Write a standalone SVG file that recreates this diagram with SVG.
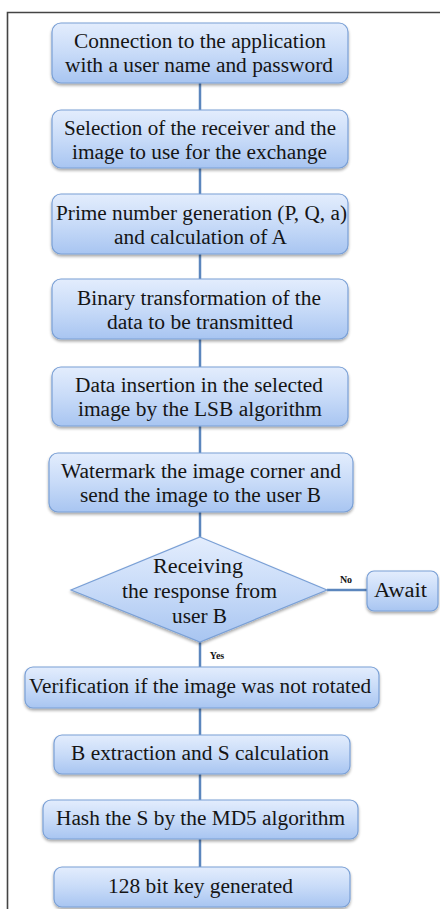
<svg xmlns="http://www.w3.org/2000/svg" width="440" height="909" viewBox="0 0 440 909">
<defs>
<linearGradient id="g" x1="0" y1="0" x2="0" y2="1">
<stop offset="0" stop-color="#e3edfd"/>
<stop offset="0.5" stop-color="#c8dbf8"/>
<stop offset="1" stop-color="#a8c5f1"/>
</linearGradient>
<filter id="sh" x="-10%" y="-10%" width="120%" height="140%">
<feGaussianBlur in="SourceAlpha" stdDeviation="1.5"/>
<feOffset dx="0" dy="2" result="b"/>
<feComponentTransfer><feFuncA type="linear" slope="0.35"/></feComponentTransfer>
<feMerge><feMergeNode/><feMergeNode in="SourceGraphic"/></feMerge>
</filter>
</defs>
<style>
.box{fill:url(#g);stroke:#7aa0d6;stroke-width:1.2;filter:url(#sh)}
.t{font-size:20px;fill:#151515;text-anchor:middle}
.s{font-size:10px;font-weight:bold;fill:#151515;text-anchor:middle}
.c{stroke:#5b86bd;stroke-width:2.5;fill:none}
</style>
<rect x="0" y="0" width="440" height="909" fill="#fff"/>
<path d="M7.5 909 V12.5 H440" stroke="#444" stroke-width="1.6" fill="none"/>
<g font-family="Liberation Serif, Times New Roman, DejaVu Serif, serif" lengthAdjust="spacingAndGlyphs">
<g id="connectors">
<line class="c" x1="200" y1="83" x2="200" y2="110"/>
<line class="c" x1="200" y1="168" x2="200" y2="194"/>
<line class="c" x1="200" y1="254" x2="200" y2="279"/>
<line class="c" x1="200" y1="339" x2="200" y2="367"/>
<line class="c" x1="200" y1="426" x2="200" y2="453"/>
<line class="c" x1="200" y1="512" x2="200" y2="537"/>
<line class="c" x1="327" y1="590" x2="367" y2="590"/>
<line class="c" x1="200" y1="642" x2="200" y2="667"/>
<line class="c" x1="200" y1="708" x2="200" y2="735"/>
<line class="c" x1="200" y1="774" x2="200" y2="800"/>
<line class="c" x1="200" y1="839" x2="200" y2="867"/>
<text class="s" x="346" y="583">No</text>
<text class="s" x="217" y="659">Yes</text>
</g>
<g id="n1"><rect class="box" x="52" y="23" width="296" height="60" rx="9"/>
<text class="t" x="200" y="48" textLength="252" lengthAdjust="spacingAndGlyphs">Connection to the application</text>
<text class="t" x="199" y="72" textLength="268" lengthAdjust="spacingAndGlyphs">with a user name and password</text></g>
<g id="n2"><rect class="box" x="52" y="110" width="296" height="58" rx="9"/>
<text class="t" x="200" y="135" textLength="272" lengthAdjust="spacingAndGlyphs">Selection of the receiver and the</text>
<text class="t" x="199.5" y="159" textLength="255" lengthAdjust="spacingAndGlyphs">image to use for the exchange</text></g>
<g id="n3"><rect class="box" x="52" y="194" width="296" height="60" rx="9"/>
<text class="t" x="201.5" y="220" textLength="291" lengthAdjust="spacingAndGlyphs">Prime number generation (P, Q, a)</text>
<text class="t" x="200.5" y="244" textLength="173" lengthAdjust="spacingAndGlyphs">and calculation of A</text></g>
<g id="n4"><rect class="box" x="52" y="279" width="296" height="60" rx="9"/>
<text class="t" x="199" y="305" textLength="244" lengthAdjust="spacingAndGlyphs">Binary transformation of the</text>
<text class="t" x="200" y="329" textLength="186" lengthAdjust="spacingAndGlyphs">data to be transmitted</text></g>
<g id="n5"><rect class="box" x="52" y="367" width="296" height="59" rx="9"/>
<text class="t" x="199" y="392" textLength="248" lengthAdjust="spacingAndGlyphs">Data insertion in the selected</text>
<text class="t" x="200" y="416" textLength="244" lengthAdjust="spacingAndGlyphs">image by the LSB algorithm</text></g>
<g id="n6"><rect class="box" x="49" y="453" width="304" height="59" rx="9"/>
<text class="t" x="201" y="478" textLength="280" lengthAdjust="spacingAndGlyphs">Watermark the image corner and</text>
<text class="t" x="200.5" y="502" textLength="241" lengthAdjust="spacingAndGlyphs">send the image to the user B</text></g>
<g id="n7"><polygon class="box" points="200,537 327,590 200,642 71,590"/>
<text class="t" x="198" y="573" textLength="90" lengthAdjust="spacingAndGlyphs">Receiving</text>
<text class="t" x="199.5" y="598" textLength="155" lengthAdjust="spacingAndGlyphs">the response from</text>
<text class="t" x="199.5" y="623" textLength="55" lengthAdjust="spacingAndGlyphs">user B</text></g>
<g id="n8"><rect class="box" x="367" y="571" width="71" height="40" rx="7"/>
<text class="t" x="400.5" y="597" textLength="53" lengthAdjust="spacingAndGlyphs">Await</text></g>
<g id="n9"><rect class="box" x="25" y="667" width="354" height="41" rx="8"/>
<text class="t" x="200" y="693" textLength="342" lengthAdjust="spacingAndGlyphs">Verification if the image was not rotated</text></g>
<g id="n10"><rect class="box" x="54" y="735" width="296" height="39" rx="8"/>
<text class="t" x="200" y="760" textLength="258" lengthAdjust="spacingAndGlyphs">B extraction and S calculation</text></g>
<g id="n11"><rect class="box" x="43" y="800" width="315" height="39" rx="8"/>
<text class="t" x="200.5" y="825" textLength="289" lengthAdjust="spacingAndGlyphs">Hash the S by the MD5 algorithm</text></g>
<g id="n12"><rect class="box" x="54" y="867" width="296" height="40" rx="8"/>
<text class="t" x="200.5" y="893" textLength="185" lengthAdjust="spacingAndGlyphs">128 bit key generated</text></g>
</g>
</svg>
